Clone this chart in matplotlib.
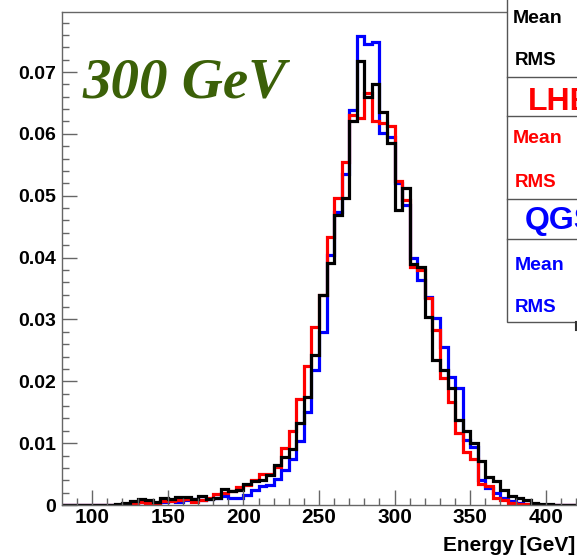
import numpy as np
import matplotlib
matplotlib.use("Agg")
import matplotlib.pyplot as plt
from matplotlib.patches import Rectangle

plt.rcParams.update({
    "font.family": ["Liberation Sans", "DejaVu Sans"],
    "font.weight": "bold",
})

# 5 GeV bins from 80 to 420 GeV, normalised entries per bin
edges = np.arange(80, 425, 5)

black = [0, 0, 0, 0, 0, 0, 0,
         0.0001, 0.0004, 0.0007, 0.0009, 0.0008, 0.0005, 0.0012, 0.0009,
         0.0013, 0.0013, 0.0010, 0.0015, 0.0010, 0.0011, 0.0026, 0.0023,
         0.0025, 0.0034, 0.0039, 0.0040, 0.0048, 0.0065, 0.0078, 0.0090,
         0.0132, 0.0175, 0.0242, 0.0340, 0.0392, 0.0469, 0.0496, 0.0621,
         0.0718, 0.0659, 0.0681, 0.0636, 0.0585, 0.0477, 0.0512, 0.0390,
         0.0384, 0.0304, 0.0235, 0.0219, 0.0189, 0.0137, 0.0119, 0.0100,
         0.0071, 0.0046, 0.0039, 0.0024, 0.0014, 0.0011, 0.0008, 0.0004,
         0.0002, 0.0001, 0, 0, 0]

lhep = [0, 0, 0, 0, 0, 0, 0,
        0, 0.0002, 0.0004, 0.0005, 0.0004, 0.0003, 0.0006, 0.0007,
        0.0008, 0.0009, 0.0005, 0.0008, 0.0012, 0.0018, 0.0020, 0.0022,
        0.0029, 0.0032, 0.0040, 0.0050, 0.0050, 0.0061, 0.0092, 0.0119,
        0.0171, 0.0224, 0.0288, 0.0339, 0.0434, 0.0496, 0.0555, 0.0630,
        0.0625, 0.0666, 0.0620, 0.0617, 0.0612, 0.0523, 0.0493, 0.0385,
        0.0380, 0.0334, 0.0283, 0.0205, 0.0167, 0.0116, 0.0085, 0.0075,
        0.0034, 0.0030, 0.0011, 0.0008, 0.0004, 0.0002, 0.0001, 0,
        0, 0, 0, 0, 0]

qgsp = [0, 0, 0, 0, 0, 0, 0,
        0, 0.0002, 0.0003, 0.0005, 0.0005, 0.0004, 0.0005, 0.0006,
        0.0005, 0.0008, 0.0009, 0.0008, 0.0010, 0.0012, 0.0014, 0.0012,
        0.0012, 0.0016, 0.0024, 0.0030, 0.0033, 0.0042, 0.0057, 0.0075,
        0.0104, 0.0150, 0.0218, 0.0280, 0.0404, 0.0474, 0.0535, 0.0639,
        0.0759, 0.0746, 0.0748, 0.0601, 0.0595, 0.0520, 0.0485, 0.0399,
        0.0364, 0.0337, 0.0302, 0.0256, 0.0207, 0.0189, 0.0105, 0.0093,
        0.0041, 0.0028, 0.0019, 0.0011, 0.0007, 0.0004, 0.0002, 0.0001,
        0, 0, 0, 0, 0]

W, H = 577, 555
fig = plt.figure(figsize=(W / 100, H / 100), dpi=100)
ax = fig.add_axes([62 / W, 50 / H, 514 / W, 493 / H])

ax.stairs(qgsp, edges, color="#0000ff", lw=2.3)
ax.stairs(lhep, edges, color="#ff0000", lw=2.3)
ax.stairs(black, edges, color="black", lw=2.3)

ax.set_xlim(80, 420)
ax.set_ylim(0, 0.0797)
ax.set_xticks([100, 150, 200, 250, 300, 350, 400])
ax.set_xticks(np.arange(90, 421, 10), minor=True)
ax.set_yticks(np.arange(0, 0.071, 0.01))
ax.set_yticklabels(["0", "0.01", "0.02", "0.03", "0.04", "0.05", "0.06",
                    "0.07"])
ax.set_yticks(np.arange(0, 0.079, 0.002), minor=True)
ax.tick_params(which="both", direction="in", color="#666666", width=1)
ax.tick_params(which="major", length=10.8)
ax.tick_params(which="minor", length=5)
ax.tick_params(axis="x", labelsize=15, pad=2)
ax.tick_params(axis="y", labelsize=14, pad=4)
ax.spines["right"].set_visible(False)
for s in ["left", "top", "bottom"]:
    ax.spines[s].set_color("#666666")
    ax.spines[s].set_linewidth(1)

fig.text(575 / W, 1 - 551 / H, "Energy [GeV]", ha="right", va="baseline",
         fontsize=15, fontweight="bold")
fig.text(82 / W, 1 - 97 / H, "300 GeV", ha="left", va="baseline",
         fontsize=41, fontstyle="italic", fontweight="bold",
         family=["Liberation Serif", "DejaVu Serif"], color="#3b6008")

# stats boxes, drawn in pixel coordinates
ov = fig.add_axes([0, 0, 1, 1])
ov.set_xlim(0, W)
ov.set_ylim(H, 0)
ov.axis("off")
box_col = "#555555"
ov.add_patch(Rectangle((507, -5), 80, 327, facecolor="white",
                       edgecolor=box_col, lw=1))
for yy in [77.3, 116, 199, 239.3]:
    ov.plot([507, 580], [yy, yy], color=box_col, lw=1)
ov.plot([575.5, 575.5], [322, 330], color="#333333", lw=1.5)

stats = [
    (513, 23.3, "Mean", "black", 14),
    (515, 65, "RMS", "black", 13.5),
    (528, 110, "LHEP", "#ff0000", 23),
    (513, 143.3, "Mean", "#ff0000", 14),
    (515, 186.7, "RMS", "#ff0000", 13.5),
    (525, 229, "QGSP", "#0000ff", 23),
    (515, 270, "Mean", "#0000ff", 14),
    (515, 311.7, "RMS", "#0000ff", 13.5),
]
for x, y, s, c, fs in stats:
    ov.text(x, y, s, color=c, fontsize=fs, fontweight="bold", ha="left",
            va="baseline")

fig.savefig("out.png", dpi=100)
